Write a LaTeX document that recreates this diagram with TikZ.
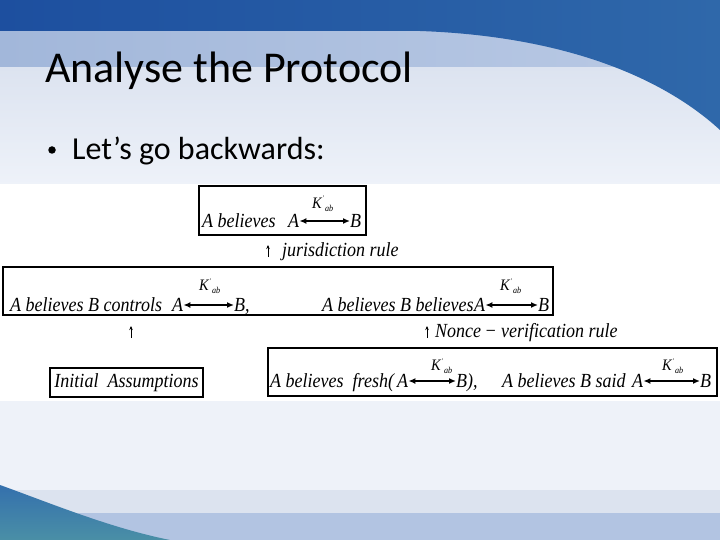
\documentclass[tikz,border=0pt]{standalone}
\usepackage{fontspec}
\setmainfont{Liberation Serif}
\newfontfamily\calibri{Carlito}
\newfontfamily\txfont[FakeStretch=0.9]{Liberation Serif}
\usetikzlibrary{arrows.meta}
\definecolor{bgbase}{HTML}{EEF2F9}
\definecolor{hdrB}{HTML}{DCE3F0}
\definecolor{bandL}{HTML}{A2B7DA}
\definecolor{bandR}{HTML}{BACAE5}
\definecolor{darkL}{HTML}{1D4F9F}
\definecolor{darkR}{HTML}{2F68AA}
\definecolor{botA}{HTML}{DCE3EF}
\definecolor{botB}{HTML}{B2C4E2}
\definecolor{swA}{HTML}{3470AD}
\definecolor{swB}{HTML}{4A8FA6}
\newcommand{\kab}{K\hspace{0.5pt}\raisebox{7pt}{\fontsize{7}{7}\selectfont '}\hspace{1.5pt}\raisebox{-3pt}{\fontsize{9}{9}\selectfont ab}}
\begin{document}
\begin{tikzpicture}[x=1pt,y=-1pt,
  tx/.style={font=\txfont\fontsize{20}{22}\selectfont\itshape, inner sep=0pt, anchor=base west},
  klab/.style={font=\txfont\fontsize{16}{17}\selectfont\itshape, inner sep=0pt, anchor=base west},
  box/.style={draw, line width=1.4pt, inner sep=0pt, fill=white},
  keyarr/.style={line width=1.5pt, arrows={Latex[length=7pt,width=6pt]-Latex[length=7pt,width=6pt]}},
  uparr/.style={line width=0.7pt, arrows={-Stealth[length=4pt,width=3.5pt]}}]
\useasboundingbox (0,0) rectangle (720,540);
% background
\fill[bgbase] (0,0) rectangle (720,540);
\shade[top color=hdrB, bottom color=bgbase] (0,67) rectangle (720,185);
\shade[left color=bandL, right color=bandR] (0,30) rectangle (720,67);
\shade[left color=darkL, right color=darkR] (0,0) -- (720,0) -- (720,130) .. controls (660,75) and (560,36) .. (420,31) -- (0,31) -- cycle;
\fill[botA] (0,490) rectangle (720,513);
\fill[botB] (0,513) rectangle (720,540);
\shade[top color=swA, bottom color=swB] (0,485) .. controls (50,503) and (110,528) .. (170,540) -- (0,540) -- cycle;
\fill[white] (0,184) rectangle (720,401);
% title and bullet
\node[font=\calibri\fontsize{44}{48}\selectfont, inner sep=0pt, anchor=base west] (title) at (45,83) {Analyse the Protocol};
\node[circle, fill=black, inner sep=0pt, minimum size=7.5pt] (dot) at (52,150) {};
\node[font=\calibri\fontsize{32}{36}\selectfont, inner sep=0pt, anchor=base west] (bullet) at (72,160) {Let’s go backwards:};
% box 1
\node[box, minimum width=167pt, minimum height=49pt] (b1) at (282.5,210.5) {};
\node[tx] (n1a) at (202,227) {A believes};
\node[tx] (n1A) at (288,227) {A};
\node[tx] (n1B) at (350,227) {B};
\node[klab] (k1) at (312,208) {\kab};
\draw[keyarr] ([yshift=6pt]n1A.base east) -- ([yshift=6pt]n1B.base west);
% jurisdiction rule
\coordinate (u1s) at (268,257);
\coordinate (u1e) at (268,245);
\draw[uparr] (u1s) -- (u1e);
\node[tx] (r1) at (282,256) {jurisdiction rule};
% box 2
\node[box, minimum width=550pt, minimum height=48pt] (b2) at (278,291) {};
\node[tx] (n2a) at (10,311) {A believes B controls};
\node[tx] (n2A) at (172,311) {A};
\node[tx] (n2B) at (234,311) {B,};
\node[klab] (k2) at (199,290) {\kab};
\draw[keyarr] ([yshift=6pt]n2A.base east) -- ([yshift=6pt]n2B.base west);
\node[tx] (n2c) at (322,311) {A believes B believes};
\node[tx] (n2C) at (474,311) {A};
\node[tx] (n2D) at (538,311) {B};
\node[klab] (k3) at (500,290) {\kab};
\draw[keyarr] ([yshift=6pt]n2C.base east) -- ([yshift=6pt]n2D.base west);
% arrows below box 2
\coordinate (u2s) at (131,338);
\coordinate (u2e) at (131,326);
\draw[uparr] (u2s) -- (u2e);
\coordinate (u3s) at (427,338);
\coordinate (u3e) at (427,326);
\draw[uparr] (u3s) -- (u3e);
\node[tx] (r2) at (435,337) {Nonce\,−\ verification rule};
% box 3
\node[box, minimum width=153pt, minimum height=29pt, font=\txfont\fontsize{20}{22}\selectfont\itshape] (b3) at (126.5,382.5) {Initial\ \ Assumptions};
% box 4
\node[box, minimum width=449pt, minimum height=48pt] (b4) at (492.5,372) {};
\node[tx] (n4a) at (270,387) {A believes\ \ fresh(};
\node[tx] (n4A) at (397,387) {A};
\node[tx] (n4B) at (456,387) {B),};
\node[klab] (k4) at (431,370) {\kab};
\draw[keyarr] ([yshift=6pt]n4A.base east) -- ([yshift=6pt]n4B.base west);
\node[tx] (n4b) at (502,387) {A believes B said};
\node[tx] (n4C) at (632,387) {A};
\node[tx] (n4D) at (700,387) {B};
\node[klab] (k5) at (662,370) {\kab};
\draw[keyarr] ([yshift=6pt]n4C.base east) -- ([yshift=6pt]n4D.base west);
\end{tikzpicture}
\end{document}
